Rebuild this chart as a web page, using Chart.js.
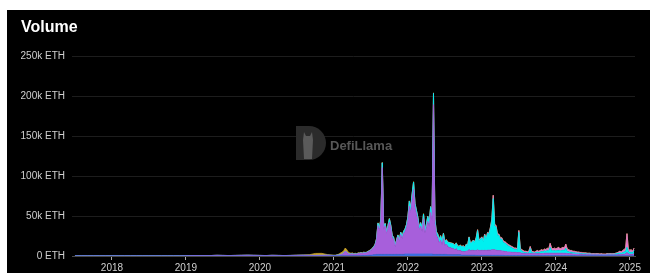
<!DOCTYPE html>
<html>
<head>
<meta charset="utf-8">
<script src="https://cdn.jsdelivr.net/npm/chart.js@4.4.1/dist/chart.umd.min.js"></script>
<style>
  html, body { margin: 0; padding: 0; background: #fff; }
  #panel { position: absolute; left: 7px; top: 10px; width: 643px; height: 263px; background: #000; overflow: hidden; }
  #wrap { position: absolute; left: 0; top: 0; width: 643px; height: 263px; }
  #title { position: absolute; left: 14px; top: 8px; color: #fff; font: bold 16px "Liberation Sans", Arial, sans-serif; }
</style>
</head>
<body>
<div id="panel">
  <div id="wrap"><canvas id="volume-chart"></canvas></div>
  <div id="title">Volume</div>
</div>
<script>
// sample dates as decimal years: monthly Jul 2017 - Dec 2020, weekly from Jan 2021
const dates = [];
for (let m = 0; m < 42; m++) dates.push(2017.5 + m / 12);
for (let w = 0; w < 212; w++) dates.push(2021 + w / 52);

const yearTicks = [2018, 2019, 2020, 2021, 2022, 2023, 2024, 2025];
const volumeTicks = [0, 50, 100, 150, 200, 250]; // k ETH

// values in k ETH, monthly part (42) then weekly part (212)
const purpleEarly = [0.1,0.1,0.1,0.1,0.1,0.1, 0.1,0.1,0.1,0.1,0.1,0.1,0.1,0.1,0.1,0.1,0.1,0.1,
  0.3,0.5,0.6,0.5,0.6,0.8,0.7,0.6,0.7,0.8,0.9,0.8, 0.7,0.6,0.8,0.7,0.6,0.7,0.8,0.9,0.8,0.7,0.8,0.9];
const orangeEarly = [0,0,0,0,0,0, 0,0,0,0,0,0,0,0,0,0,0,0, 0,0,0,0,0,0,0,0,0,0,0,0,
  0,0,0,0,0,0,0.2,0.3,0.8,2.5,2.5,0.8];
const zeroEarly = [0,0,0,0,0,0, 0,0,0,0,0,0,0,0,0,0,0,0, 0,0,0,0,0,0,0,0,0,0,0,0,
  0,0,0,0,0,0,0,0,0,0,0,0];

const purpleWeekly = [
  0.3,0.3,0.6,0.6,1.1,1.6,2.1,3.6,5.6,4.6,
  2.5,2,2,2.5,1.7,2.2,1.9,2.9,2.9,3.4,
  2.7,3.6,3,3.5,4.2,5,5.9,7.5,9,12,
  18,36,30,41,108.5,31,36,26,33,40.5,
  33,21,19,10,16,22,16,25,20,26,
  28,33,42,60,52,68,81,58,50,42,
  30,35,28,44,26,33,41,34,52,42,
  187.2,39,24,21,14,18,12,20,11,13,
  10.5,9,9,8,8,6,8,5,5.5,5.5,
  4.7,4.7,4.2,5.2,5.2,7.2,5.7,6.2,6.2,5.7,
  6,7,6,6,6.5,6,6.5,6,6.5,6.5,
  6.5,7,7,7,6.5,6,6,6,5.5,5.5,
  5,5,4.5,4.5,4.5,4,4,4,4,3.5,
  4,3.5,3,3,2.5,2.5,2.5,2.5,3,2.5,
  2.5,2.5,2.5,2.5,2.5,2.5,2.5,2.5,3,3,
  3,3,3,3,3,3,3,3,3,3,
  3,3,3,3,2.5,2.5,2.5,2.2,2,2,
  2,2,2,1.8,1.8,1.6,1.6,1.6,1.5,1.5,
  1.4,1.4,1.4,1.4,1.4,1.4,1.4,1.2,1.4,1.2,
  1.2,1.2,1.2,1.2,1.2,1.2,1.2,1.2,1.2,1.2,
  1.5,1.8,1.5,2,2,2.5,4,2.5,2,2,
  2,2.5];

const cyanWeekly = [
  0.2,0.2,0.2,0.2,0.2,0.2,0.2,0.2,0.2,0.2,
  0.3,0.3,0.3,0.3,0.3,0.3,0.3,0.3,0.3,0.3,
  0.3,0.4,0.4,0.4,0.5,0.5,0.6,0.8,1,1,
  1.5,3,3,3,6,3,2.5,2.5,3,4,
  3,2.5,2,1.5,1.5,2,2,2.5,2.5,2.5,
  3,3.5,4,6,6,7,9,5,4.5,4,
  3.5,4,3.5,6,3.5,4,6,5,7,6,
  14,5,4,4,4,5,4,6,4,5,
  5,6,5.5,6,5.5,5.5,6.5,5.5,5,6,
  5.5,6.5,5,8,7,15,8.5,10,12,10.5,
  15,24,12,14,15.5,11,19,14,21,20,
  27,36,64,30,29,19,19,14,15,11,
  10.7,9.7,8.2,7.2,6.2,5.7,4.7,3.7,3.7,3.2,
  25.3,4.3,2.8,1.8,1.3,1.3,0.8,1.3,5.8,1.3,
  1.1,0.6,1.3,2,1.3,2,2.8,2,3,2.3,
  3.3,2.8,7.3,3.3,2.8,3.3,2.8,3.3,3.8,2.8,
  3.3,3.8,3.3,6.3,2.8,2.3,1.8,2.1,1.5,1.5,
  1.5,1.2,1.2,1,1,0.9,0.9,0.9,0.6,0.6,
  0.9,0.4,0.4,0.4,0.4,0.4,0.4,0.2,0.4,0.2,
  0.2,0.2,0.7,0.7,0.7,0.7,0.7,0.7,1.2,1.7,
  1.6,1.8,1.6,2.1,2.6,3.1,6.6,3.1,2.1,2.6,
  1.8,4.1];

const pinkWeekly = [
  0,0,0,0,0,0,0,0,0,0,
  0,0,0,0,0,0,0,0,0,0,
  0,0,0,0,0,0,0,0,0,0,
  0,0,0,0,0,0,0,0,0,0,
  0,0,0,0,0,0,0,0,0,0,
  0,0,0,0,0,0,0,0,0,0,
  0,0,0,0,0,0,0,0,0,0,
  0.3,0.3,0.3,0.3,0.3,0.3,0.3,0.3,0.3,0.3,
  0.3,0.3,0.3,0.3,0.3,0.3,0.3,0.3,0.3,0.3,
  0.5,0.5,0.5,0.5,0.5,0.5,0.5,0.5,0.5,0.5,
  1,1,1,1,1,1,1,1,1,1,
  1.5,2,4,2,1.5,1.5,1.5,1.5,1.5,1.5,
  1.5,1.5,1.5,1.5,1.5,1.5,1.5,1.5,1.5,1.5,
  2,1.5,1.5,1.5,1.5,1.5,1.5,1.5,2.5,1.5,
  1.2,1.2,1.5,1.8,1.5,1.8,2,1.8,2.3,2,
  3,2.5,5,3,2.5,3,2.5,3,3.5,2.5,
  3,3.5,3,5,3,2.5,2,2,1.8,1.8,
  1.5,1.3,1.3,1.2,1.2,1,1,1,0.9,0.9,
  0.8,0.8,0.8,0.8,0.8,0.8,0.8,0.7,0.8,0.7,
  0.7,0.7,0.7,0.7,0.7,0.7,0.7,0.7,0.7,0.7,
  1.5,2,1.5,2.5,3,4,17,3,2.5,3,
  1.8,3];

const blueWeekly = [
  0.2,0.2,0.2,0.2,0.2,0.2,0.2,0.2,0.2,0.2,
  0.2,0.2,0.2,0.2,0.2,0.2,0.2,0.2,0.2,0.2,
  0.5,0.5,0.6,0.6,0.8,1,1,1.2,1.5,1.5,
  2,2,2,2,2,2,2,2,2,2,
  2,2,2,2,2,2,2,2,2,2,
  2.5,2.5,2.5,2.5,2.5,2.5,2.5,2.5,2.5,2.5,
  2.5,2.5,2.5,2.5,2.5,2.5,2.5,2.5,2.5,2.5,
  2,2,2,2,2,2,2,2,2,2,
  1.5,1.5,1.5,1.5,1.5,1.5,1.5,1.5,1.5,1.5,
  1,1,1,1,1,1,1,1,1,1,
  0.8,0.8,0.8,0.8,0.8,0.8,0.8,0.8,0.8,0.8,
  0.8,0.8,0.8,0.8,0.8,0.8,0.8,0.8,0.8,0.8,
  0.6,0.6,0.6,0.6,0.6,0.6,0.6,0.6,0.6,0.6,
  0.5,0.5,0.5,0.5,0.5,0.5,0.5,0.5,0.5,0.5,
  0.5,0.5,0.5,0.5,0.5,0.5,0.5,0.5,0.5,0.5,
  0.5,0.5,0.5,0.5,0.5,0.5,0.5,0.5,0.5,0.5,
  0.5,0.5,0.5,0.5,0.5,0.5,0.5,0.5,0.5,0.5,
  0.4,0.4,0.4,0.4,0.4,0.4,0.4,0.4,0.4,0.4,
  0.3,0.3,0.3,0.3,0.3,0.3,0.3,0.3,0.3,0.3,
  0.3,0.3,0.3,0.3,0.3,0.3,0.3,0.3,0.3,0.3,
  0.3,0.3,0.3,0.3,0.3,0.3,0.3,0.3,0.3,0.3,
  0.3,0.3];

const orangeWeekly = [
  0.3,0.3,0.5,1,1.5,2,2.5,3,4,3,
  2,1.5,1,1,0.8,0.8,0.6,0.6,0.6,0.6,
  0.5,0.5,0.5,0.5,0.5,0.5,0.5,0.5,0.5,0.5,
  0.5,0.5,0.5,0.5,0.5,0.5,0.5,0.5,0.5,0.5,
  0.5,0.5,0.5,0.5,0.5,0.5,0.5,0.5,0.5,0.5,
  0.5,0.5,0.5,0.5,0.5,0.5,0.5,0.5,0.5,0.5,
  0.5,0.5,0.5,0.5,0.5,0.5,0.5,0.5,0.5,0.5,
  0.5,0.5,0.5,0.5,0.5,0.5,0.5,0.5,0.5,0.5,
  0.3,0.3,0.3,0.3,0.3,0.3,0.3,0.3,0.3,0.3,
  0.3,0.3,0.3,0.3,0.3,0.3,0.3,0.3,0.3,0.3,
  0.2,0.2,0.2,0.2,0.2,0.2,0.2,0.2,0.2,0.2,
  0.2,0.2,0.2,0.2,0.2,0.2,0.2,0.2,0.2,0.2,
  0.2,0.2,0.2,0.2,0.2,0.2,0.2,0.2,0.2,0.2,
  0.2,0.2,0.2,0.2,0.2,0.2,0.2,0.2,0.2,0.2,
  0.2,0.2,0.2,0.2,0.2,0.2,0.2,0.2,0.2,0.2,
  0.2,0.2,0.2,0.2,0.2,0.2,0.2,0.2,0.2,0.2,
  0.2,0.2,0.2,0.2,0.2,0.2,0.2,0.2,0.2,0.2,
  0.1,0.1,0.1,0.1,0.1,0.1,0.1,0.1,0.1,0.1,
  0.1,0.1,0.1,0.1,0.1,0.1,0.1,0.1,0.1,0.1,
  0.1,0.1,0.1,0.1,0.1,0.1,0.1,0.1,0.1,0.1,
  0.1,0.1,0.1,0.1,0.1,0.1,0.1,0.1,0.1,0.1,
  0.1,0.1];

const FONT = '"Liberation Sans", Arial, sans-serif';

function series(early, weekly) {
    const vals = early.concat(weekly);
    return dates.map((d, i) => ({ x: d, y: vals[i] }));
}

function areaSet(label, data, color, fill) {
    return {
        label: label,
        data: data,
        backgroundColor: color,
        borderColor: color,
        borderWidth: 0.8,
        fill: fill,
        pointRadius: 0,
        tension: 0
    };
}

// faint DefiLlama mark behind the areas
const watermark = {
    id: 'watermark',
    beforeDatasetsDraw(chart) {
        const ctx = chart.ctx;
        ctx.save();
        // "D" badge
        ctx.fillStyle = '#2b2b2b';
        ctx.beginPath();
        ctx.moveTo(289, 116);
        ctx.lineTo(302, 116);
        ctx.arc(302, 133, 17, -Math.PI / 2, Math.PI / 2);
        ctx.lineTo(289, 150);
        ctx.closePath();
        ctx.fill();
        // llama head
        ctx.fillStyle = '#5a5a5a';
        ctx.beginPath();
        ctx.moveTo(297, 122);
        ctx.lineTo(299, 126);
        ctx.lineTo(303, 126);
        ctx.lineTo(305, 122);
        ctx.lineTo(306, 130);
        ctx.lineTo(305, 149);
        ctx.lineTo(297, 149);
        ctx.lineTo(296, 130);
        ctx.closePath();
        ctx.fill();
        ctx.font = 'bold 13px ' + FONT;
        ctx.fillStyle = '#575757';
        ctx.textBaseline = 'alphabetic';
        ctx.fillText('DefiLlama', 323, 140);
        ctx.restore();
    }
};

new Chart(document.getElementById('volume-chart'), {
    type: 'line',
    data: {
        datasets: [
            areaSet('Blue', series(zeroEarly, blueWeekly), '#3d6fe0', 'origin'),
            areaSet('Purple', series(purpleEarly, purpleWeekly), '#a75fdb', '-1'),
            areaSet('Cyan', series(zeroEarly, cyanWeekly), '#00f0f0', '-1'),
            areaSet('Pink', series(zeroEarly, pinkWeekly), '#e47ac9', '-1'),
            areaSet('Orange', series(orangeEarly, orangeWeekly), '#c9a227', '-1')
        ]
    },
    options: {
        responsive: true,
        maintainAspectRatio: false,
        animation: false,
        layout: { padding: { top: 46, right: 15, left: 0, bottom: 0 } },
        plugins: {
            legend: { display: false },
            tooltip: { enabled: false }
        },
        scales: {
            x: {
                type: 'linear',
                min: 2017.46,
                max: 2025.07,
                afterBuildTicks: (scale) => { scale.ticks = yearTicks.map(v => ({ value: v })); },
                ticks: {
                    color: '#d0d0d0',
                    font: { family: FONT, size: 10 },
                    padding: 2,
                    maxRotation: 0,
                    autoSkip: false,
                    callback: (v) => String(v)
                },
                grid: { drawOnChartArea: false, drawTicks: true, tickLength: 4, color: '#aaaaaa' },
                border: { display: true, color: '#484848' },
                afterFit: (scale) => { scale.height = 17; }
            },
            y: {
                stacked: true,
                min: 0,
                max: 250,
                afterBuildTicks: (scale) => { scale.ticks = volumeTicks.map(v => ({ value: v })); },
                ticks: {
                    color: '#d0d0d0',
                    font: { family: FONT, size: 10 },
                    padding: 7,
                    callback: (v) => v === 0 ? '0 ETH' : v + 'k ETH'
                },
                grid: {
                    drawTicks: false,
                    color: (c) => (c.tick && c.tick.value === 0) ? 'rgba(0,0,0,0)' : '#1d1d1d'
                },
                border: { display: false },
                afterFit: (scale) => { scale.width = 65; }
            }
        }
    },
    plugins: [watermark]
});
</script>
</body>
</html>
